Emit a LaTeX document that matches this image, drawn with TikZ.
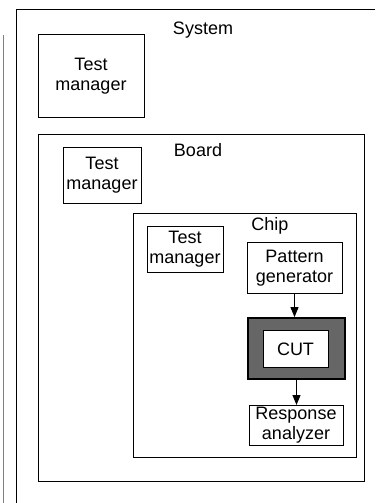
\documentclass[tikz,border=0pt]{standalone}
\usepackage{fontspec}
\setmainfont{Liberation Sans}
\usepackage{tikz}
\usetikzlibrary{arrows.meta, fit, positioning}

\tikzset{
  blk/.style={draw, line width=0.75pt, inner sep=0pt, align=center, font=\fontsize{13.5}{15}\selectfont},
  lbl/.style={font=\fontsize{13.5}{15}\selectfont},
  frame/.style={draw, line width=0.75pt, inner sep=0pt},
  flow/.style={-{Triangle[length=7.5pt,width=6pt]}, line width=0.75pt}
}

\begin{document}
\begin{tikzpicture}[x=0.75pt, y=-0.75pt]
\useasboundingbox (0,0) rectangle (375,503);
% page edge
\draw[gray, line width=0.6pt] (3,35) -- (3,503);

% system level
\draw[line width=0.75pt] (16,503) -- (16,10) -- (375,10);
\node[lbl] (system) at (203,30) {System};
\node[blk, minimum width=79.5pt, minimum height=61.5pt] (sysTM) at (91,76) {Test\\manager};

% board level
\node[frame, fit={(38,134)(364,481)}] (board) {};
\node[lbl] (boardLbl) at (198,150) {Board};
\node[blk, minimum width=58.5pt, minimum height=42pt] (boardTM) at (102,175) {Test\\manager};

% chip level
\node[frame, fit={(133,213)(356,457)}] (chip) {};
\node[lbl] (chipLbl) at (270,226) {Chip};
\node[blk, minimum width=57pt, minimum height=34.5pt] (chipTM) at (185,249) {Test\\manager};
\node[blk, minimum width=71.25pt, minimum height=38.25pt] (pg) at (294.5,268) {Pattern\\generator};
\node[draw, line width=1.3pt, fill=black!60, minimum width=72.75pt, minimum height=45.75pt] (cut) at (296.5,348.5) {};
\node[blk, fill=white, minimum width=48.75pt, minimum height=27.75pt] (cutIn) at (295.5,349) {CUT};
\node[blk, minimum width=70.5pt, minimum height=30pt] (ra) at (296,425.5) {Response\\analyzer};

\draw[flow] (pg.south) -- (pg.south |- cut.north);
\draw[flow] (cut.south) -- (cut.south |- ra.north);
\end{tikzpicture}
\end{document}
